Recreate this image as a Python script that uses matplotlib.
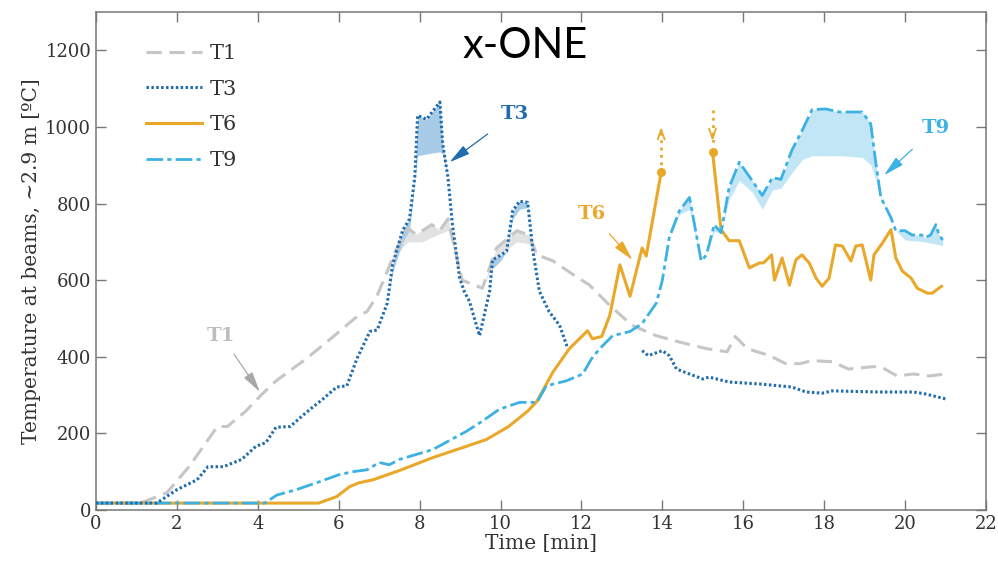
import numpy as np
import matplotlib
matplotlib.use("Agg")
import matplotlib.pyplot as plt

# T1 - gray dashed
t1_t = [0, 1.1, 1.75, 2.3, 3.0, 3.25, 3.7, 4.1, 4.45, 5.2, 5.8, 6.45, 6.7, 6.95, 7.2, 7.4, 7.7,
        7.9, 8.05, 8.3, 8.5, 8.7, 9.05, 9.55, 9.9, 10.4, 10.7, 10.9, 11.3, 11.8, 12.2, 12.7,
        13.25, 13.85, 14.4, 15.1, 15.6, 15.8, 16.1, 16.65, 17.05, 17.4, 17.7, 18.2, 18.6,
        19.2, 19.4, 19.8, 20.2, 20.6, 21.0]
t1_v = [18, 18, 45, 113, 218, 218, 258, 302, 337, 395, 447, 505, 518, 560, 623, 676, 737,
        720, 728, 745, 730, 760, 600, 579, 684, 729, 718, 666, 650, 614, 587, 534,
        482, 455, 439, 421, 413, 453, 421, 403, 382, 382, 390, 387, 368,
        374, 374, 350, 355, 350, 355]
t1_band_t = [7.3, 7.7, 8.05, 8.3, 8.7, 9.9, 10.4, 10.7]
t1_band_lo = [650, 700, 700, 712, 730, 660, 700, 695]

# T3 - dark blue dotted (two pieces)
t3a_t = [0, 1.5, 2.0, 2.5, 2.77, 3.15, 3.6, 3.95, 4.2, 4.45, 4.8, 5.2, 5.6, 5.95, 6.2, 6.45,
         6.77, 6.95, 7.2, 7.33, 7.58, 7.75, 7.88, 7.95, 8.17, 8.5, 8.57, 8.7, 8.81, 8.99,
         9.1, 9.23, 9.48, 9.73, 9.8, 10.0, 10.15, 10.3, 10.47, 10.67, 10.8, 10.96, 11.2,
         11.46, 11.65]
t3a_v = [18, 18, 53, 79, 113, 113, 132, 166, 176, 216, 218, 255, 289, 321, 324, 395,
         466, 470, 540, 640, 730, 760, 870, 1030, 1020, 1065, 955, 868, 745, 605,
         571, 545, 455, 571, 653, 665, 676, 781, 806, 803, 676, 571, 518,
         482, 425]
t3b_t = [13.5, 13.65, 14.0, 14.17, 14.35, 14.67, 15.0, 15.15, 15.65, 16.4, 17.2, 17.55,
         17.95, 18.2, 19.35, 20.2, 20.5, 21.0]
t3b_v = [416, 403, 416, 403, 368, 355, 342, 347, 334, 329, 321, 308, 305, 311, 308, 308, 303, 290]
t3_band_t = [7.33, 7.58, 7.75, 7.88, 7.95, 8.2, 8.5, 8.57, 8.7, 9.7, 9.8, 10.0, 10.3, 10.47, 10.67, 10.8]
t3_band_lo = [620, 700, 730, 860, 925, 930, 935, 930, 868, 571, 630, 650, 760, 785, 790, 676]

# T6 - orange solid (two pieces)
t6a_t = [0, 5.5, 5.95, 6.27, 6.5, 6.85, 7.2, 7.5, 8.33, 9.15, 9.65, 10.2, 10.67, 10.9,
         11.3, 11.7, 12.15, 12.27, 12.5, 12.7, 12.95, 13.2, 13.5, 13.6, 13.97]
t6a_v = [18, 18, 35, 61, 71, 79, 92, 103, 137, 166, 184, 218, 258, 284,
         361, 421, 468, 447, 453, 508, 640, 558, 684, 663, 882]
t6b_t = [15.24, 15.45, 15.65, 15.9, 16.15, 16.4, 16.5, 16.7, 16.77, 16.96, 17.14, 17.3,
         17.45, 17.63, 17.8, 17.95, 18.12, 18.28, 18.45, 18.66, 18.78, 18.94, 19.15, 19.23,
         19.44, 19.65, 19.77, 19.93, 20.15, 20.3, 20.55, 20.67, 20.9]
t6b_v = [934, 732, 703, 703, 632, 645, 645, 666, 600, 658, 587, 653,
         666, 645, 605, 584, 605, 692, 689, 650, 689, 692, 600, 666,
         697, 732, 658, 624, 605, 579, 566, 566, 584]

# T9 - light blue dash-dot
t9_t = [0, 4.17, 4.47, 4.95, 5.45, 6.0, 6.35, 6.7, 7.0, 7.25, 7.5, 8.33, 9.15, 9.55, 9.97,
        10.47, 10.9, 11.13, 11.62, 12.03, 12.25, 12.45, 12.77, 13.2, 13.5, 13.85, 14.0,
        14.17, 14.42, 14.67, 14.96, 15.09, 15.28, 15.45, 15.65, 15.9, 16.22, 16.47, 16.72,
        16.93, 17.2, 17.46, 17.7, 18.04, 18.37, 18.94, 19.15, 19.28, 19.4, 19.65, 19.77,
        20.0, 20.17, 20.4, 20.5, 20.63, 20.76, 20.84, 20.93]
t9_v = [18, 18, 39, 53, 71, 92, 100, 105, 124, 118, 132, 158, 205, 232, 263,
        281, 281, 324, 337, 355, 395, 421, 455, 466, 487, 540, 600,
        711, 781, 816, 650, 666, 745, 724, 842, 908, 860, 821, 868,
        863, 939, 992, 1045, 1047, 1039, 1039, 1008, 903, 816, 763, 729,
        729, 718, 718, 711, 718, 745, 718, 705]
t9_band_t = [14.4, 14.67, 14.9, 15.6, 15.95, 16.22, 16.47, 16.72, 16.93, 17.2, 17.46, 17.7,
             18.0, 18.5, 19.0, 19.2, 19.4, 19.7, 20.0, 20.5, 20.93]
t9_band_lo = [770, 785, 640, 800, 870, 830, 785, 835, 840, 880, 915, 925,
              925, 925, 920, 895, 810, 750, 705, 700, 690]

c1 = '#c6c6c6'
c3 = '#1f6cae'
c6 = '#e9a82a'
c9 = '#3cb1e3'
serif = 'DejaVu Serif'


def band(ax, t, v, bt, blo, color):
    t = np.array(t)
    v = np.array(v)
    lo = np.interp(t, bt, blo)
    lo = np.minimum(lo, v)
    m = (t >= bt[0]) & (t <= bt[-1])
    ax.fill_between(t, lo, v, where=m, color=color, lw=0, interpolate=True, zorder=1)


fig = plt.figure(figsize=(9.98, 5.72), dpi=100)
ax = fig.add_axes([0.0962, 0.1084, 0.8918, 0.8706])

band(ax, t1_t, t1_v, t1_band_t, t1_band_lo, '#e2e2e2')
band(ax, t3a_t, t3a_v, t3_band_t, t3_band_lo, '#a8cbe8')
band(ax, t9_t, t9_v, t9_band_t, t9_band_lo, '#c3e6f7')

ax.plot(t1_t, t1_v, color=c1, lw=2.2, ls=(0, (5, 2.5)), label='T1', zorder=2)
ax.plot(t3a_t, t3a_v, color=c3, lw=2.2, ls=(0, (0.8, 0.8)), label='T3', zorder=4)
ax.plot(t3b_t, t3b_v, color=c3, lw=2.2, ls=(0, (0.8, 0.8)), zorder=4)
ax.plot(t6a_t, t6a_v, color=c6, lw=2.2, ls='-', label='T6', zorder=3)
ax.plot(t6b_t, t6b_v, color=c6, lw=2.2, ls='-', zorder=3)
ax.plot(t9_t, t9_v, color=c9, lw=2.0, ls=(0, (6, 1.5, 1.5, 1.5)), label='T9', zorder=3)

# end dots of T6 and dotted arrows (off-scale)
ax.plot([t6a_t[-1], t6b_t[0]], [t6a_v[-1], t6b_v[0]], 'o', color=c6, ms=5.5, zorder=5)
ax.plot([t6a_t[-1]] * 2, [t6a_v[-1], t6a_v[-1] + 110], color=c6, lw=2, ls=':', zorder=5)
ax.annotate('', xy=(t6a_t[-1], t6a_v[-1] + 125), xytext=(t6a_t[-1], t6a_v[-1] + 95),
            arrowprops=dict(arrowstyle='->,head_length=0.7,head_width=0.25', color=c6, lw=1.3))
ax.plot([t6b_t[0]] * 2, [t6b_v[0] + 110, t6b_v[0] + 25], color=c6, lw=2, ls=':', zorder=5)
ax.annotate('', xy=(t6b_t[0], t6b_v[0] + 22), xytext=(t6b_t[0], t6b_v[0] + 55),
            arrowprops=dict(arrowstyle='->,head_length=0.7,head_width=0.25', color=c6, lw=1.3))

# labels with arrows
arr = '-|>,head_length=0.9,head_width=0.22'
ax.annotate('T1', xy=(4.05, 308), xytext=(3.1, 455), color='#bdbdbd', fontsize=14,
            fontweight='bold', family=serif, ha='center', va='center',
            arrowprops=dict(arrowstyle=arr, color='#a8a8a8', lw=0.9, shrinkA=6, shrinkB=0))
ax.annotate('T3', xy=(8.74, 908), xytext=(10.35, 1034), color=c3, fontsize=14,
            fontweight='bold', family=serif, ha='center', va='center',
            arrowprops=dict(arrowstyle=arr, color=c3, lw=0.9, shrinkA=10, shrinkB=0))
ax.annotate('T6', xy=(13.26, 653), xytext=(12.25, 774), color=c6, fontsize=14,
            fontweight='bold', family=serif, ha='center', va='center',
            arrowprops=dict(arrowstyle=arr, color=c6, lw=0.9, shrinkA=8, shrinkB=0))
ax.annotate('T9', xy=(19.48, 874), xytext=(20.75, 997), color=c9, fontsize=14,
            fontweight='bold', family=serif, ha='center', va='center',
            arrowprops=dict(arrowstyle=arr, color=c9, lw=0.9, shrinkA=10, shrinkB=0))

ax.set_xlim(0, 22)
ax.set_ylim(0, 1300)
ax.set_xticks(np.arange(0, 23, 2))
ax.set_yticks(np.arange(0, 1201, 200))
ax.tick_params(direction='in', length=7, width=1, color='#777777', top=True, right=True,
               labelsize=13, labelcolor='#333333')
for lab in ax.get_xticklabels() + ax.get_yticklabels():
    lab.set_family(serif)
for s in ax.spines.values():
    s.set_color('#777777')
    s.set_linewidth(1.1)

ax.set_xlabel('Time [min]', fontsize=14.5, family=serif, color='#333333', labelpad=1)
ax.set_ylabel('Temperature at beams, ~2.9 m [ºC]', fontsize=14.5, family=serif,
              color='#333333', labelpad=3)

leg = ax.legend(loc='upper left', bbox_to_anchor=(0.056, 0.936), frameon=False,
                borderaxespad=0, borderpad=0, handlelength=2.7, handletextpad=0.35,
                labelspacing=0.8, prop={'family': serif, 'size': 15})
for txt in leg.get_texts():
    txt.set_color('#333333')

fig.text(0.526, 0.92, 'x-ONE', fontsize=30, family='Lato', ha='center', va='center')

fig.savefig('out.png', dpi=100)
